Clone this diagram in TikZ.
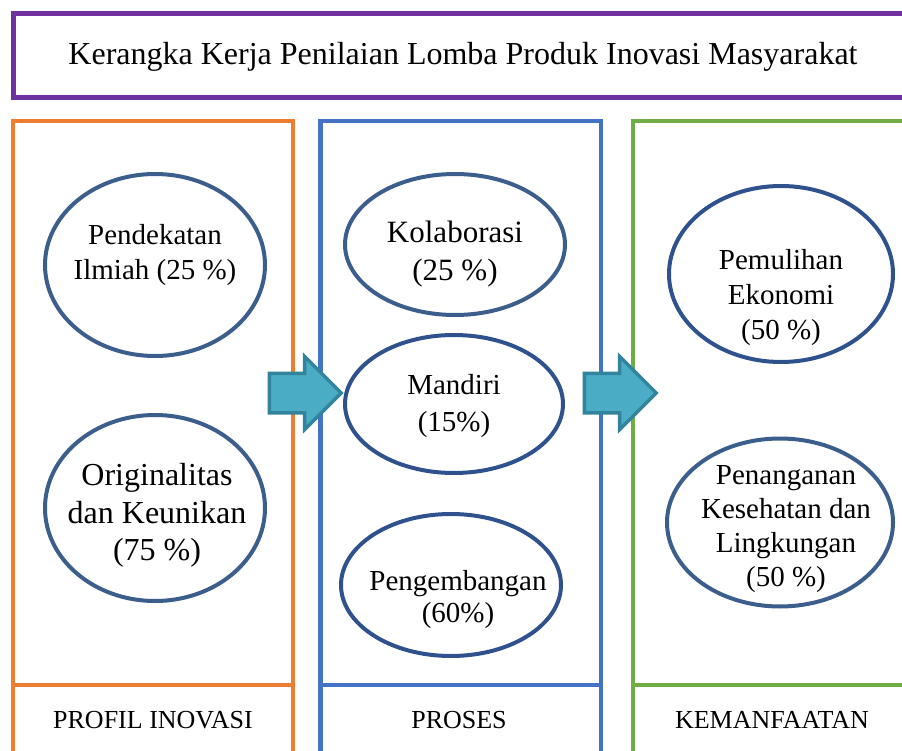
\documentclass[tikz,border=0pt]{standalone}
\usepackage{fontspec}
\setmainfont{Liberation Serif}
\usetikzlibrary{shapes.geometric, shapes.arrows}

\definecolor{ungu}{RGB}{112,48,160}
\definecolor{oranye}{RGB}{237,125,49}
\definecolor{biru}{RGB}{68,114,196}
\definecolor{hijau}{RGB}{112,173,71}
\definecolor{garisA}{RGB}{59,94,140}
\definecolor{garisB}{RGB}{47,82,143}
\definecolor{isiPanah}{RGB}{75,172,198}
\definecolor{tepiPanah}{RGB}{49,132,155}

\begin{document}
\begin{tikzpicture}[
    x=1pt, y=-1pt,
    bingkai/.style={line width=4.5pt},
    oval/.style={ellipse, draw=garisA, line width=4pt, inner sep=0pt, minimum width=220pt},
    teks/.style={align=center, inner sep=0pt, font=\fontsize{29}{35}\selectfont},
    labelkolom/.style={font=\fontsize{26}{31}\selectfont},
    panah/.style={single arrow, draw=tepiPanah, fill=isiPanah, line width=3.5pt,
        minimum height=72pt, minimum width=70pt, single arrow head extend=17pt,
        inner xsep=0pt, inner ysep=18pt, anchor=tail}
]
    \useasboundingbox (0,0) rectangle (902,751);
    \clip (0,0) rectangle (902,751);

    % judul
    \draw[bingkai, ungu, line width=5pt] (910,14) -- (13,14) -- (13,97.5) -- (910,97.5);
    \node[font=\fontsize{32}{38}\selectfont] (judul) at (463,57) {Kerangka Kerja Penilaian Lomba Produk Inovasi Masyarakat};

    % kolom
    \draw[bingkai, oranye] (13,760) -- (13,121) -- (293,121) -- (293,760);
    \draw[bingkai, oranye] (13,685) -- (293,685);
    \draw[bingkai, biru] (320.5,760) -- (320.5,121) -- (601,121) -- (601,760);
    \draw[bingkai, biru] (320.5,685) -- (601,685);
    \draw[bingkai, hijau] (910,121) -- (633,121) -- (633,760);
    \draw[bingkai, hijau] (633,685) -- (910,685);

    \node[labelkolom] (profil) at (153,720) {PROFIL INOVASI};
    \node[labelkolom] (proses) at (459,720) {PROSES};
    \node[labelkolom] (manfaat) at (772,720) {KEMANFAATAN};

    % profil inovasi
    \node[oval, minimum height=182pt] (pendekatan) at (155,265) {};
    \node[teks] (pendekatan-t) at ([yshift=9.5pt]pendekatan.center) {Pendekatan\\Ilmiah (25 \%)};
    \node[oval, minimum height=186pt] (original) at (155,508) {};
    \node[teks, font=\fontsize{32}{37.5}\selectfont] (original-t) at ([xshift=2pt, yshift=-7.5pt]original.center) {Originalitas\\dan Keunikan\\(75 \%)};

    % proses
    \node[oval, minimum height=141pt] (kolaborasi) at (455,244.5) {};
    \node[teks, font=\fontsize{31}{38}\selectfont] (kolaborasi-t) at ([yshift=-9.5pt]kolaborasi.center) {Kolaborasi\\(25 \%)};
    \node[oval, draw=garisB, minimum height=138pt, minimum width=218pt] (mandiri) at (454,404) {};
    \node[teks, font=\fontsize{29}{37}\selectfont] (mandiri-t) at ([yshift=-2.5pt]mandiri.center) {Mandiri\\(15\%)};
    \node[oval, draw=garisB, minimum height=142pt] (pengembangan) at (451,585) {};
    \node[teks, font=\fontsize{29}{32}\selectfont] (pengembangan-t) at ([xshift=7pt, yshift=-15pt]pengembangan.center) {Pengembangan\\(60\%)};

    % kemanfaatan
    \node[oval, draw=garisB, minimum height=176pt, minimum width=224pt] (pemulihan) at (781,274) {};
    \node[teks] (pemulihan-t) at ([yshift=-23.5pt]pemulihan.center) {Pemulihan\\Ekonomi\\(50 \%)};
    \node[oval, minimum height=168pt, minimum width=226pt] (penanganan) at (780,522.5) {};
    \node[teks, font=\fontsize{29}{34}\selectfont] (penanganan-t) at ([xshift=6pt, yshift=-6.5pt]penanganan.center) {Penanganan\\Kesehatan dan\\Lingkungan\\(50 \%)};

    % panah
    \node[panah] (panah1) at (267.5,393) {};
    \node[panah] (panah2) at (582.5,393) {};

\end{tikzpicture}
\end{document}
